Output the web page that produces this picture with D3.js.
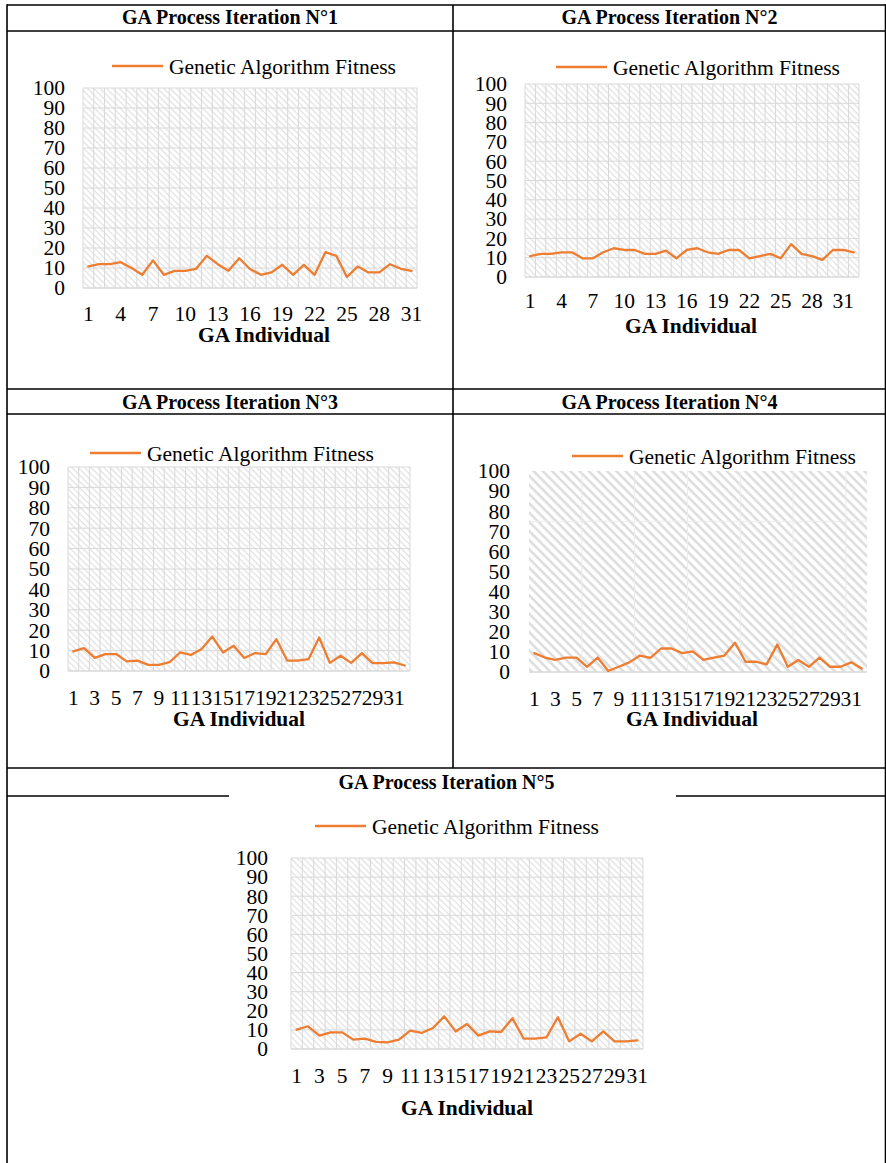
<!DOCTYPE html>
<html>
<head>
<meta charset="utf-8">
<script src="https://cdnjs.cloudflare.com/ajax/libs/d3/7.8.5/d3.min.js"></script>
<style>
  html, body { margin: 0; padding: 0; background: #fff; }
  svg { display: block; }
  svg text { font-family: "Times New Roman", "Liberation Serif", Times, serif !important; fill: #000; }
</style>
</head>
<body>
<svg id="root" width="886" height="1163"></svg>
<script>
// ---------------- DATA ----------------
const individuals31 = [1,2,3,4,5,6,7,8,9,10,11,12,13,14,15,16,17,18,19,20,21,22,23,24,25,26,27,28,29,30,31];
const individuals32 = [1,2,3,4,5,6,7,8,9,10,11,12,13,14,15,16,17,18,19,20,21,22,23,24,25,26,27,28,29,30,31,32];
const yTickValues = [0,10,20,30,40,50,60,70,80,90,100];
const xTicksEvery3 = [1,4,7,10,13,16,19,22,25,28,31];
const xTicksEvery2 = [1,3,5,7,9,11,13,15,17,19,21,23,25,27,29,31];

const fitnessIter1 = [10.8,11.9,11.9,12.9,10,6.6,13.8,6.6,8.6,8.6,9.6,16.1,11.9,8.6,14.9,9.5,6.6,7.8,11.6,6.6,11.6,6.6,17.9,16.1,5.5,10.8,7.8,7.8,11.9,9.6,8.6];
const fitnessIter2 = [10.8,12,12,12.8,12.8,9.7,9.7,12.8,14.9,14,14,12,12,13.7,9.7,14,14.9,12.8,12,14,14,9.7,10.8,12,9.7,17,12,10.8,8.9,14,14,12.8];
const fitnessIter3 = [9.6,11.2,6.4,8.3,8.3,4.7,5.1,3,3,4.3,9.1,7.9,10.8,16.9,9.1,12.4,6.4,8.8,8.3,15.6,5.1,5.1,5.8,16.4,4,7.5,4,8.8,3.9,3.9,4.2,2.7];
const fitnessIter4 = [9.4,7.2,6,7.2,7.2,2.6,7.2,0.5,2.6,4.8,8.2,7,11.7,11.7,9.4,10.3,6,7.2,8.2,14.6,5.1,5.1,3.8,13.7,2.6,6,2.6,7.2,2.6,2.6,4.8,1.7];
const fitnessIter5 = [10.1,11.9,7,8.7,8.7,4.9,5.4,3.7,3.5,4.9,9.6,8.4,11,17.1,9.2,13.1,7,9.2,8.9,16.1,5.4,5.4,6.1,16.6,4,8,4,9.2,4,4,4.5];

const headerTitles = ["GA Process Iteration N°1","GA Process Iteration N°2","GA Process Iteration N°3","GA Process Iteration N°4","GA Process Iteration N°5"];
const legendLabel = "Genetic Algorithm Fitness";
const xAxisTitle = "GA Individual";

// ---------------- LAYOUT ----------------
const svg = d3.select("#root");
const defs = svg.append("defs");
const lineColor = "#ED7D31";
const gridColor = "#d9d9d9";
const FONT = "'Times New Roman', 'Liberation Serif', serif";

function hatch(id, spacing, sw, color) {
  const p = defs.append("pattern").attr("id", id)
    .attr("patternUnits", "userSpaceOnUse")
    .attr("width", spacing).attr("height", spacing)
    .attr("patternTransform", "rotate(45)");
  p.append("rect").attr("x", 0).attr("y", 0).attr("width", spacing).attr("height", sw).attr("fill", color);
}
hatch("hatchFine", 4.5, 1.3, "#e2e2e2");
hatch("hatchWide", 6.5, 2.6, "#dedede");

// table lines
const T = svg.append("g").attr("stroke", "#000").attr("stroke-width", 1.6);
const tl = (x1,y1,x2,y2) => T.append("line").attr("x1",x1).attr("y1",y1).attr("x2",x2).attr("y2",y2);
tl(7,5,886,5);
tl(7,31,886,31);
tl(7,389,886,389);
tl(7,414,886,414);
tl(7,768,886,768);
tl(7,796,229,796);
tl(676,796,886,796);
tl(7,4.2,7,1163);
tl(885.5,4.2,885.5,1163);
tl(453,5,453,768);

const headers = [
  {t: headerTitles[0], x: 230, y: 17},
  {t: headerTitles[1], x: 669.5, y: 17},
  {t: headerTitles[2], x: 230, y: 402},
  {t: headerTitles[3], x: 669.5, y: 402},
  {t: headerTitles[4], x: 446.5, y: 782}
];
headers.forEach(h => {
  svg.append("text").attr("x", h.x).attr("y", h.y).attr("dy", "0.35em")
    .attr("text-anchor", "middle").attr("font-weight", "bold").attr("font-size", 20)
    .attr("font-family", FONT).text(h.t);
});

const charts = [
  {data: fitnessIter1, cats: individuals31, ticks: xTicksEvery3, x0: 83, x1: 417, yt: 88, yb: 288,
   legX: 112, legY: 66, labR: 65, xlabY: 313, titleY: 334, titleX: 264, hatch: "hatchFine", grid: "fine"},
  {data: fitnessIter2, cats: individuals32, ticks: xTicksEvery3, x0: 525, x1: 859, yt: 84, yb: 277,
   legX: 556, legY: 67, labR: 507, xlabY: 300, titleY: 325, titleX: 691, hatch: "hatchFine", grid: "fine"},
  {data: fitnessIter3, cats: individuals32, ticks: xTicksEvery2, x0: 68, x1: 410, yt: 467, yb: 671,
   legX: 90, legY: 453, labR: 50, xlabY: 697, titleY: 718, titleX: 239, hatch: "hatchFine", grid: "fine"},
  {data: fitnessIter4, cats: individuals32, ticks: xTicksEvery2, x0: 529, x1: 867, yt: 471, yb: 672,
   legX: 572, legY: 456, labR: 510, xlabY: 698, titleY: 718, titleX: 692, hatch: "hatchWide", grid: "none"},
  {data: fitnessIter5, cats: individuals31, ticks: xTicksEvery2, x0: 291, x1: 643, yt: 858, yb: 1049,
   legX: 315, legY: 826, labR: 268, xlabY: 1075, titleY: 1107, titleX: 467, hatch: "hatchFine", grid: "fine"}
];

const FS = 21.5;

charts.forEach(c => {
  const g = svg.append("g");
  const x = d3.scaleBand().domain(c.cats).range([c.x0, c.x1]);
  const y = d3.scaleLinear().domain([0, 100]).range([c.yb, c.yt]);

  g.append("rect").attr("x", c.x0).attr("y", c.yt).attr("width", c.x1 - c.x0).attr("height", c.yb - c.yt)
    .attr("fill", "#fff");
  g.append("rect").attr("x", c.x0).attr("y", c.yt).attr("width", c.x1 - c.x0).attr("height", c.yb - c.yt)
    .attr("fill", `url(#${c.hatch})`);

  if (c.grid === "fine") {
    g.append("g").selectAll("line").data(yTickValues.filter(v => v > 0)).join("line")
      .attr("x1", c.x0).attr("x2", c.x1).attr("y1", d => y(d)).attr("y2", d => y(d))
      .attr("stroke", gridColor).attr("stroke-width", 1);
    g.append("g").selectAll("line").data(c.cats).join("line")
      .attr("x1", d => x(d)).attr("x2", d => x(d)).attr("y1", c.yt).attr("y2", c.yb)
      .attr("stroke", gridColor).attr("stroke-width", 1);
    g.append("line").attr("x1", c.x1).attr("x2", c.x1).attr("y1", c.yt).attr("y2", c.yb)
      .attr("stroke", gridColor).attr("stroke-width", 1);
  } else {
    // faint seams of the pattern fill
    const seamsX = c.cats.filter((d, i) => i > 0 && i % 5 === 0);
    g.append("g").selectAll("line").data(seamsX).join("line")
      .attr("x1", d => x(d)).attr("x2", d => x(d)).attr("y1", c.yt).attr("y2", c.yb)
      .attr("stroke", "#ececec").attr("stroke-width", 1);
    g.append("line").attr("x1", c.x0).attr("x2", c.x1).attr("y1", y(75)).attr("y2", y(75))
      .attr("stroke", "#ececec").attr("stroke-width", 1);
  }
  g.append("line").attr("x1", c.x0).attr("x2", c.x1).attr("y1", c.yb).attr("y2", c.yb)
    .attr("stroke", gridColor).attr("stroke-width", 1.5);

  const ya = g.append("g").attr("transform", `translate(${c.labR},0)`)
    .call(d3.axisLeft(y).tickValues(yTickValues).tickSize(0).tickPadding(0));
  ya.attr("font-family", FONT).attr("font-size", FS);
  ya.select(".domain").remove();
  ya.selectAll("text").attr("font-size", FS).attr("font-family", FONT).attr("fill", "#000");

  const xa = g.append("g").attr("transform", `translate(0,${c.xlabY})`)
    .call(d3.axisBottom(x).tickValues(c.ticks).tickSize(0).tickPadding(0));
  xa.attr("font-family", FONT).attr("font-size", FS);
  xa.select(".domain").remove();
  xa.selectAll("text").attr("font-size", FS).attr("font-family", FONT).attr("fill", "#000")
    .attr("dy", "0.35em");

  const line = d3.line().x((d, i) => x(c.cats[i]) + x.bandwidth() / 2).y(d => y(d));
  g.append("path").datum(c.data).attr("d", line).attr("fill", "none")
    .attr("stroke", lineColor).attr("stroke-width", 2.3).attr("stroke-linejoin", "round").attr("stroke-linecap", "round");

  g.append("line").attr("x1", c.legX).attr("x2", c.legX + 51).attr("y1", c.legY).attr("y2", c.legY)
    .attr("stroke", lineColor).attr("stroke-width", 2.3);
  g.append("text").attr("x", c.legX + 57).attr("y", c.legY).attr("dy", "0.35em")
    .attr("font-size", FS).attr("font-family", FONT).text(legendLabel);

  g.append("text").attr("x", c.titleX).attr("y", c.titleY).attr("dy", "0.35em")
    .attr("text-anchor", "middle").attr("font-weight", "bold").attr("font-size", FS)
    .attr("font-family", FONT).text(xAxisTitle);
});
</script>
</body>
</html>
